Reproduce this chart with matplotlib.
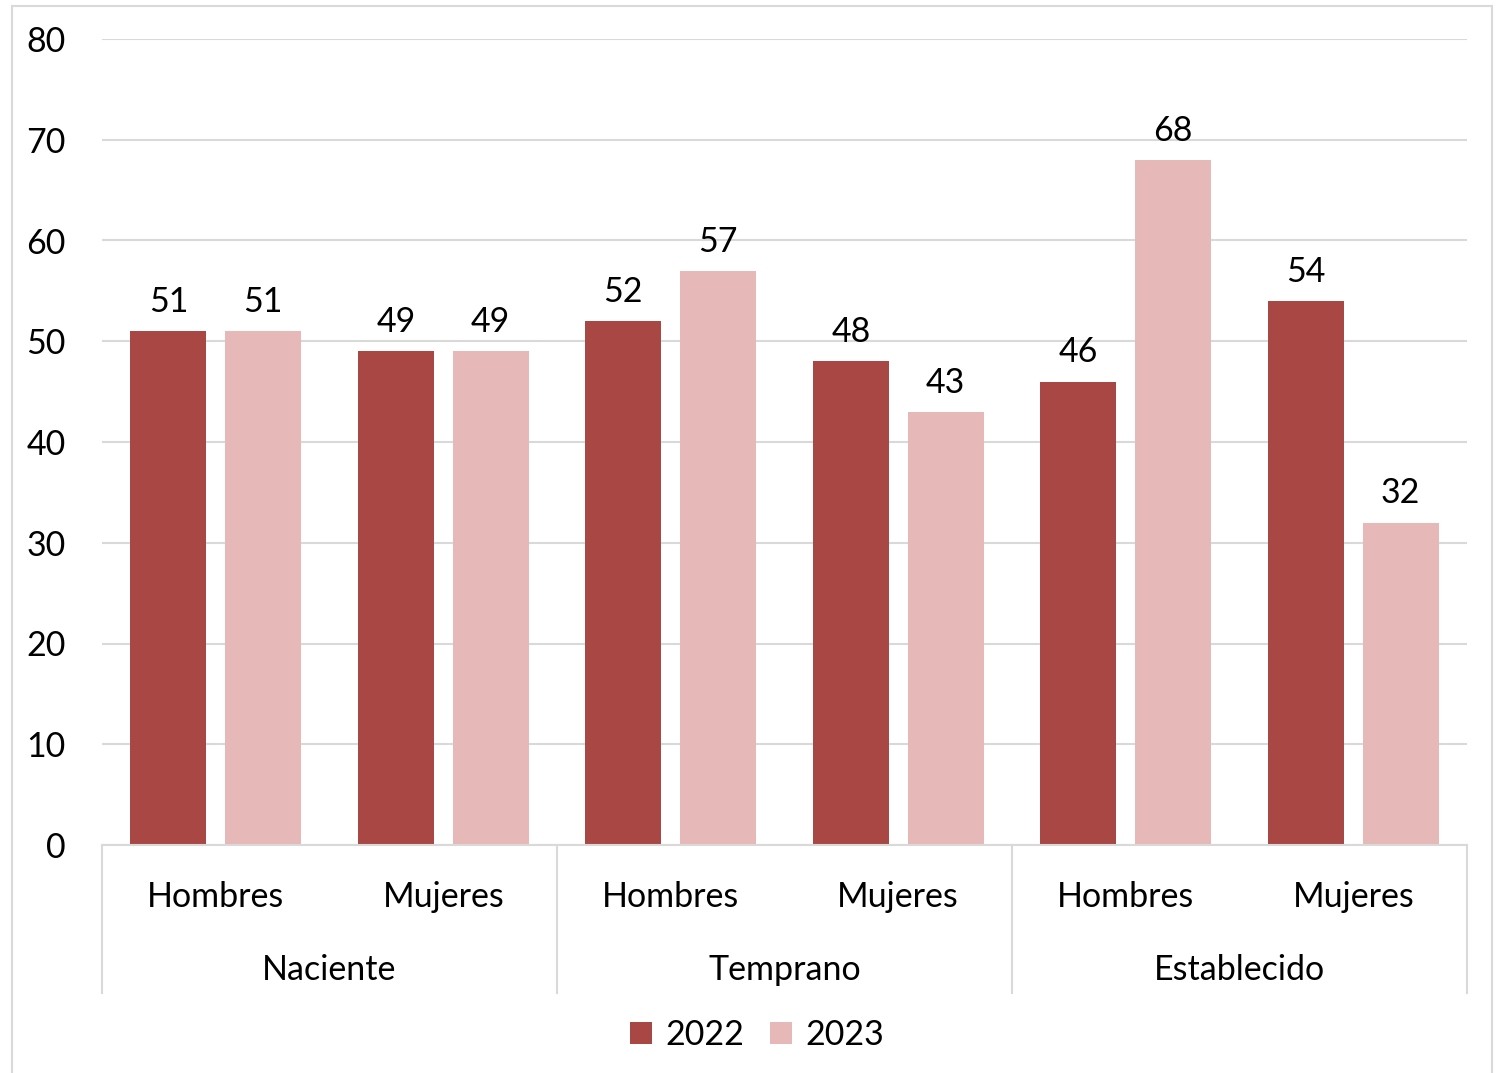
import matplotlib
matplotlib.use("Agg")
import matplotlib.pyplot as plt
from matplotlib.patches import Rectangle, Patch
import numpy as np

plt.rcParams['font.family'] = ['Lato', 'DejaVu Sans']

groups = ["Naciente", "Temprano", "Establecido"]
subcats = ["Hombres", "Mujeres", "Hombres", "Mujeres", "Hombres", "Mujeres"]
series_names = ["2022", "2023"]
v2022 = [51, 49, 52, 48, 46, 54]
v2023 = [51, 49, 57, 43, 68, 32]
yticks = [0, 10, 20, 30, 40, 50, 60, 70, 80]

c1 = "#A84744"
c2 = "#E6B8B7"
grid_c = "#D9D9D9"
fs = 24.5

fig = plt.figure(figsize=(15.01, 10.73), dpi=100)
fig.patches.append(Rectangle((12/1501, -0.01), (1492-12)/1501, 1 - 6/1073 + 0.01,
                             transform=fig.transFigure, fill=False, edgecolor=grid_c, lw=1.5))
ax = fig.add_axes([102/1501, 1 - 845/1073, (1467-102)/1501, (845-39)/1073])

x = np.arange(len(subcats))
w = 0.334
gap = 0.083
b1 = ax.bar(x - (w + gap)/2, v2022, w, color=c1, zorder=3)
b2 = ax.bar(x + (w + gap)/2, v2023, w, color=c2, zorder=3)
for bars, vals in ((b1, v2022), (b2, v2023)):
    for r, v in zip(bars, vals):
        ax.text(r.get_x() + r.get_width()/2, v + 2.9, str(v), ha='center', va='center', fontsize=fs)

ax.set_xlim(-0.5, len(subcats) - 0.5)
ax.set_ylim(0, 80)
ax.set_yticks(yticks)
ax.set_yticklabels([str(t) for t in yticks], fontsize=fs)
ax.tick_params(axis='y', length=0, pad=26)
ax.set_xticks([])
for s in ax.spines.values():
    s.set_visible(False)
ax.axhline(0, color=grid_c, lw=1.5, zorder=4, clip_on=False)
ax.grid(axis='y', color=grid_c, lw=1.5, zorder=0)

for i, s in enumerate(subcats):
    ax.text(i, -5.2, s, ha='center', va='center', fontsize=fs, clip_on=False)
for g, name in enumerate(groups):
    ax.text(2*g + 0.5, -12.4, name, ha='center', va='center', fontsize=fs, clip_on=False)
for k in range(len(groups) + 1):
    xx = 2*k - 0.5
    ax.plot([xx, xx], [0, -14.7], color=grid_c, lw=1.5, clip_on=False)

handles = [Patch(facecolor=c1), Patch(facecolor=c2)]
fig.legend(handles, series_names, loc='center', bbox_to_anchor=(757/1501, 1 - 1035/1073),
           ncol=2, frameon=False, fontsize=fs, handlelength=0.65, handleheight=0.65,
           handletextpad=0.4, columnspacing=0.75)

fig.savefig("out.png", dpi=100)
